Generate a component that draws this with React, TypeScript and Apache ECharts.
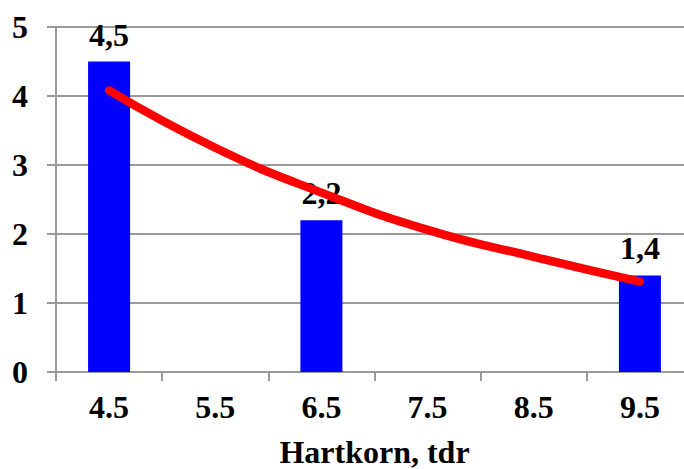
import React, { useEffect, useRef } from "react";
import * as echarts from "echarts";

const categories = ["4.5", "5.5", "6.5", "7.5", "8.5", "9.5"];
const barValues: (number | null)[] = [4.5, null, 2.2, null, null, 1.4];
const trendValues = [4.08, 3.25, 2.6, 2.06, 1.67, 1.31];
const yTicks = [0, 1, 2, 3, 4, 5];
const xTitle = "Hartkorn, tdr";

const FONT = "Liberation Serif";
const FS = 32;

export default function App() {
  const ref = useRef<HTMLDivElement>(null);
  useEffect(() => {
    if (!ref.current) return;
    const chart = echarts.init(ref.current, undefined, { renderer: "svg" });
    chart.setOption({
      animation: false,
      backgroundColor: "#ffffff",
      grid: { left: 56, top: 27, width: 637, height: 345, containLabel: false, outerBoundsMode: "none" },
      xAxis: {
        type: "category",
        data: categories,
        boundaryGap: true,
        axisLine: { show: true, lineStyle: { color: "#9a9a9a", width: 2 } },
        axisTick: { show: true, length: 9, alignWithLabel: false, lineStyle: { color: "#9a9a9a", width: 2 } },
        axisLabel: { margin: 19, fontFamily: FONT, fontWeight: "bold", fontSize: FS, color: "#000" },
        name: xTitle,
        nameLocation: "middle",
        nameGap: 64,
        nameTextStyle: { fontFamily: FONT, fontWeight: "bold", fontSize: FS, color: "#000" },
        splitLine: { show: false },
      },
      yAxis: {
        type: "value",
        min: yTicks[0],
        max: yTicks[yTicks.length - 1],
        interval: 1,
        axisLine: { show: true, lineStyle: { color: "#9a9a9a", width: 2 } },
        axisTick: { show: true, length: 9, lineStyle: { color: "#9a9a9a", width: 2 } },
        axisLabel: { margin: 28, fontFamily: FONT, fontWeight: "bold", fontSize: FS, color: "#000" },
        splitLine: { show: true, lineStyle: { color: "#9a9a9a", width: 2 } },
      },
      series: [
        {
          type: "bar",
          data: barValues,
          barWidth: 42,
          z: 2,
          itemStyle: { color: "#0000ff" },
          label: {
            show: true,
            position: "top",
            distance: 11,
            fontFamily: FONT,
            fontWeight: "bold",
            fontSize: FS,
            color: "#000",
            formatter: (p: any) => (p.value == null ? "" : String(p.value).replace(".", ",")),
          },
        },
        {
          type: "line",
          data: trendValues,
          smooth: true,
          symbol: "none",
          z: 5,
          lineStyle: { color: "#ff0000", width: 8.5, cap: "round" },
        },
      ],
    });
    return () => chart.dispose();
  }, []);
  return (
    <div style={{ width: 684, height: 469, position: "absolute", left: 0, top: 0, overflow: "hidden", background: "#fff" }}>
      <div ref={ref} style={{ width: 704, height: 469, position: "absolute", left: 0, top: 0 }} />
    </div>
  );
}
